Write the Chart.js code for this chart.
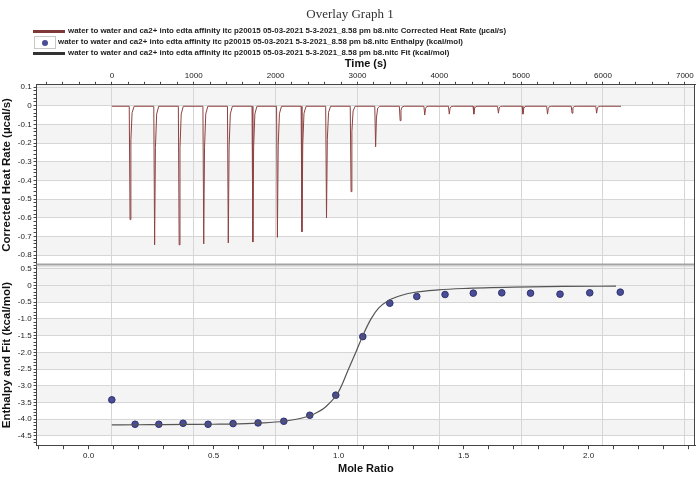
<!DOCTYPE html>
<html>
<head>
<meta charset="utf-8">
<script src="https://cdn.jsdelivr.net/npm/chart.js@4.4.1/dist/chart.umd.min.js"></script>
<style>
  body { margin: 0; background: #fff; }
  #wrap { position: relative; width: 700px; height: 485px; }
  #chart { position: absolute; left: 0; top: 0; }
  #title { position: absolute; left: 0; width: 700px; top: 6px; text-align: center; font: 13px "Liberation Serif", serif; color: #333; }
  .leg { position: absolute; height: 10px; font: bold 7.9px "Liberation Sans", Arial, sans-serif; color: #222; white-space: nowrap; line-height: 10px; }
  .leg .txt { position: absolute; top: 0; }
  .leg .ln { position: absolute; left: 33px; top: 4px; width: 32px; height: 3px; }
  .leg .box { position: absolute; left: 34px; top: -1px; width: 20px; height: 11px; border: 1px solid #c8c8c8; background: #fff; }
  .leg .dot { position: absolute; left: 7px; top: 3px; width: 6px; height: 6px; border-radius: 50%; background: #4a4d95; }
</style>
</head>
<body>
<div id="wrap">
  <canvas id="chart" width="700" height="485"></canvas>
  <div id="title">Overlay Graph 1</div>
  <div class="leg" style="top:26px;left:0"><span class="ln" style="background:#7e3838"></span><span class="txt" style="left:68px">water to water and ca2+ into edta affinity itc p20015 05-03-2021 5-3-2021_8.58 pm b8.nitc Corrected Heat Rate (µcal/s)</span></div>
  <div class="leg" style="top:37px;left:0"><span class="box"><span class="dot"></span></span><span class="txt" style="left:58px">water to water and ca2+ into edta affinity itc p20015 05-03-2021 5-3-2021_8.58 pm b8.nitc Enthalpy (kcal/mol)</span></div>
  <div class="leg" style="top:48px;left:0"><span class="ln" style="background:#333"></span><span class="txt" style="left:68px">water to water and ca2+ into edta affinity itc p20015 05-03-2021 5-3-2021_8.58 pm b8.nitc Fit (kcal/mol)</span></div>
</div>
<script>
// raw thermogram (time in s, heat rate in µcal/s), one injection per line
const heatTime = [
  0,
  212, 222, 232, 247, 272,
  512, 522, 532, 547, 572,
  812, 822, 832, 847, 872,
  1112, 1122, 1132, 1147, 1172,
  1412, 1422, 1432, 1447, 1472,
  1712, 1722, 1732, 1747, 1772,
  2012, 2022, 2032, 2047, 2072,
  2312, 2322, 2332, 2347, 2372,
  2612, 2622, 2632, 2647, 2672,
  2912, 2922, 2932, 2947, 2972,
  3212, 3222, 3232, 3247, 3272,
  3512, 3522, 3532, 3547, 3572,
  3812, 3822, 3832, 3847, 3872,
  4112, 4122, 4132, 4147, 4172,
  4412, 4422, 4432, 4447, 4472,
  4712, 4722, 4732, 4747, 4772,
  5012, 5022, 5032, 5047, 5072,
  5312, 5322, 5332, 5347, 5372,
  5612, 5622, 5632, 5647, 5672,
  5912, 5922, 5932, 5947, 5972,
  6220
];
const heatRate = [
  -0.003,
  -0.003, -0.61, -0.183, -0.037, -0.003,
  -0.003, -0.745, -0.224, -0.045, -0.003,
  -0.003, -0.745, -0.224, -0.045, -0.003,
  -0.003, -0.74, -0.222, -0.044, -0.003,
  -0.003, -0.735, -0.221, -0.044, -0.003,
  -0.003, -0.73, -0.219, -0.044, -0.003,
  -0.003, -0.705, -0.212, -0.042, -0.003,
  -0.003, -0.675, -0.203, -0.041, -0.003,
  -0.003, -0.60, -0.18, -0.036, -0.003,
  -0.003, -0.46, -0.138, -0.028, -0.003,
  -0.003, -0.22, -0.066, -0.013, -0.003,
  -0.003, -0.08, -0.024, -0.006, -0.003,
  -0.003, -0.05, -0.015, -0.004, -0.003,
  -0.003, -0.045, -0.014, -0.004, -0.003,
  -0.003, -0.045, -0.014, -0.004, -0.003,
  -0.003, -0.04, -0.012, -0.004, -0.003,
  -0.003, -0.045, -0.014, -0.004, -0.003,
  -0.003, -0.045, -0.014, -0.004, -0.003,
  -0.003, -0.04, -0.012, -0.004, -0.003,
  -0.003, -0.04, -0.012, -0.004, -0.003,
  -0.003
];

// integrated heats
const moleRatio = [0.093, 0.186, 0.281, 0.378, 0.478, 0.578, 0.678, 0.781, 0.885, 0.989,
                   1.097, 1.205, 1.313, 1.426, 1.539, 1.653, 1.768, 1.886, 2.005, 2.127];
const enthalpy = [-3.42, -4.15, -4.15, -4.12, -4.15, -4.13, -4.11, -4.06, -3.88, -3.28,
                  -1.53, -0.53, -0.33, -0.27, -0.23, -0.22, -0.23, -0.26, -0.22, -0.20];

// fitted curve
const fitRatio = [0.093, 0.2, 0.3, 0.4, 0.5, 0.6, 0.7, 0.78, 0.85, 0.9, 0.95, 1.0, 1.04, 1.07,
                  1.1, 1.13, 1.16, 1.2, 1.25, 1.3, 1.4, 1.5, 1.7, 1.9, 2.11];
const fitValue = [-4.17, -4.165, -4.16, -4.155, -4.15, -4.14, -4.11, -4.06, -3.97, -3.85, -3.62, -3.18, -2.5, -1.98,
                  -1.45, -1.0, -0.68, -0.45, -0.3, -0.21, -0.13, -0.09, -0.05, -0.03, -0.02];

const timeTickStep = 200, timeLabelStep = 1000;
const ratioTickStep = 0.1, ratioLabelStep = 0.5;
const heatTickStep = 0.02, heatLabelStep = 0.1;
const enthTickStep = 0.1, enthLabelStep = 0.5;

const isMult = (v, s) => Math.abs(v / s - Math.round(v / s)) < 1e-6;
const fmt = v => v === 0 ? '0' : v.toFixed(1);
const tickFont = { family: '"Liberation Sans", Arial, sans-serif', size: 8 };
const titleFont = { family: '"Liberation Sans", Arial, sans-serif', size: 11, weight: 'bold' };
const yTitleFont = { family: '"Liberation Sans", Arial, sans-serif', size: 11.5, weight: 'bold' };
const gridCol = '#d6d6d6';
const axisCol = '#444';

const panels = {
  id: 'panels',
  beforeDraw(chart) {
    const { ctx, chartArea: a } = chart;
    const shade = (scale, step, first) => {
      for (let v = first; v - step > scale.min - 1e-9; v -= 2 * step) {
        const top = scale.getPixelForValue(v === first ? scale.max : v);
        const bot = scale.getPixelForValue(Math.max(v - step, scale.min));
        ctx.fillRect(a.left, top, a.right - a.left, bot - top);
      }
    };
    ctx.save();
    ctx.fillStyle = '#f4f4f4';
    shade(chart.scales.yHeat, heatLabelStep, 0.1);
    shade(chart.scales.yEnth, enthLabelStep, 0);
    ctx.restore();
  },
  afterDraw(chart) {
    const { ctx, chartArea: a } = chart;
    const b = chart.scales.yHeat.bottom;
    ctx.save();
    ctx.fillStyle = '#a3a3a3';
    ctx.fillRect(a.left, b - 1.5, a.right - a.left, 2);
    ctx.fillStyle = '#d0d0d0';
    ctx.fillRect(a.left, b + 0.5, a.right - a.left, 1);
    ctx.strokeStyle = axisCol;
    ctx.lineWidth = 1;
    ctx.beginPath();
    ctx.moveTo(a.right - 0.5, a.top);
    ctx.lineTo(a.right - 0.5, a.bottom);
    ctx.stroke();
    ctx.restore();
  }
};

new Chart(document.getElementById('chart'), {
  type: 'scatter',
  data: {
    datasets: [
      {
        label: 'Corrected Heat Rate (µcal/s)',
        data: heatTime.map((t, i) => ({ x: t, y: heatRate[i] })),
        xAxisID: 'xTime', yAxisID: 'yHeat',
        showLine: true, borderColor: '#8e4242', borderWidth: 1, pointRadius: 0
      },
      {
        label: 'Fit (kcal/mol)',
        data: fitRatio.map((r, i) => ({ x: r, y: fitValue[i] })),
        xAxisID: 'xRatio', yAxisID: 'yEnth',
        showLine: true, borderColor: '#555', borderWidth: 1.2, pointRadius: 0,
        cubicInterpolationMode: 'monotone'
      },
      {
        label: 'Enthalpy (kcal/mol)',
        data: moleRatio.map((r, i) => ({ x: r, y: enthalpy[i] })),
        xAxisID: 'xRatio', yAxisID: 'yEnth',
        pointRadius: 3.3, pointBackgroundColor: '#4a4d95', pointBorderColor: '#30336f', pointBorderWidth: 1
      }
    ]
  },
  options: {
    responsive: false,
    animation: false,
    layout: { padding: { top: 51, left: 0, right: 3, bottom: 7 } },
    plugins: { legend: { display: false }, tooltip: { enabled: false } },
    scales: {
      yEnth: {
        type: 'linear', position: 'left', stack: 'left', stackWeight: 1,
        min: -4.776, max: 0.612,
        border: { color: axisCol },
        grid: { color: c => c.tick && isMult(c.tick.value, enthLabelStep) ? gridCol : 'transparent', tickColor: axisCol, tickLength: 3 },
        ticks: { stepSize: enthTickStep, includeBounds: false, autoSkip: false, font: tickFont, color: '#222', padding: 2,
                 callback: v => isMult(v, enthLabelStep) ? fmt(v) : '' },
        title: { display: true, text: 'Enthalpy and Fit (kcal/mol)', font: yTitleFont, color: '#111', padding: { top: 0, bottom: 2 } }
      },
      yHeat: {
        type: 'linear', position: 'left', stack: 'left', stackWeight: 1,
        min: -0.853, max: 0.112,
        border: { color: axisCol },
        grid: { color: c => c.tick && isMult(c.tick.value, heatLabelStep) ? gridCol : 'transparent', tickColor: axisCol, tickLength: 3 },
        ticks: { stepSize: heatTickStep, includeBounds: false, autoSkip: false, font: tickFont, color: '#222', padding: 2,
                 callback: v => isMult(v, heatLabelStep) ? fmt(v) : '' },
        title: { display: true, text: 'Corrected Heat Rate (µcal/s)', font: yTitleFont, color: '#111', padding: { top: 0, bottom: 2 } }
      },
      xTime: {
        type: 'linear', position: 'top',
        min: -920, max: 7124,
        border: { color: axisCol },
        grid: { color: c => c.tick && isMult(c.tick.value, timeLabelStep) ? gridCol : 'transparent', tickColor: axisCol, tickLength: 3 },
        ticks: { stepSize: timeTickStep, includeBounds: false, autoSkip: false, maxRotation: 0, font: tickFont, color: '#222', padding: 1,
                 callback: v => isMult(v, timeLabelStep) ? String(v) : '' },
        title: { display: true, text: 'Time (s)', font: titleFont, color: '#111', padding: { top: 6, bottom: 0 } }
      },
      xRatio: {
        type: 'linear', position: 'bottom',
        min: -0.208, max: 2.426,
        border: { color: axisCol },
        grid: { drawOnChartArea: false, tickColor: axisCol, tickLength: 4 },
        ticks: { stepSize: ratioTickStep, includeBounds: false, autoSkip: false, maxRotation: 0, font: tickFont, color: '#222', padding: 2,
                 callback: v => isMult(v, ratioLabelStep) ? v.toFixed(1) : '' },
        title: { display: true, text: 'Mole Ratio', font: titleFont, color: '#111', padding: { top: 0, bottom: 2 } }
      }
    }
  },
  plugins: [panels]
});
</script>
</body>
</html>
